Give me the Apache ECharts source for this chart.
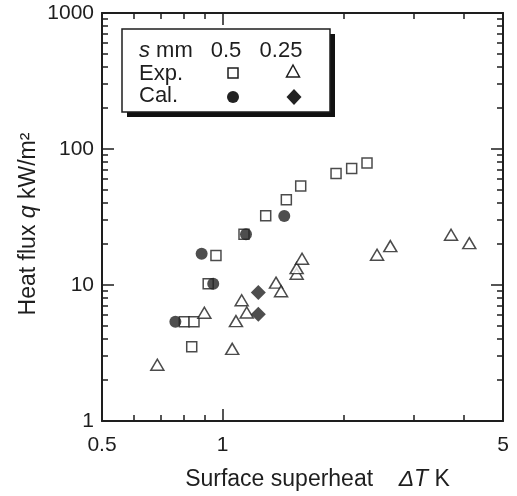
<!DOCTYPE html>
<html><head><meta charset="utf-8">
<script src="https://cdn.jsdelivr.net/npm/echarts@6/dist/echarts.min.js"></script>
<style>html,body{margin:0;padding:0;background:#fff}#c{width:517px;height:496px}</style>
</head><body><div id="c"></div>
<script>
// Exp., s = 0.5 mm (open squares)
const exp05_dT = [0.802, 0.837, 0.848, 0.920, 0.962, 1.13, 1.28, 1.441, 1.565, 1.917, 2.097, 2.290];
const exp05_q  = [5.37, 3.52, 5.37, 10.2, 16.5, 23.6, 32.3, 42.4, 53.4, 66.1, 71.9, 79.0];
// Exp., s = 0.25 mm (open triangles)
const exp025_dT = [0.687, 0.90, 1.056, 1.079, 1.115, 1.148, 1.358, 1.398, 1.529, 1.529, 1.577, 2.426, 2.618, 3.71, 4.12];
const exp025_q  = [2.59, 6.25, 3.39, 5.43, 7.73, 6.28, 10.4, 9.0, 12.1, 13.3, 15.6, 16.7, 19.3, 23.4, 20.3];
// Cal., s = 0.5 mm (filled circles)
const cal05_dT = [0.762, 0.886, 0.947, 1.143, 1.424];
const cal05_q  = [5.37, 17.0, 10.2, 23.6, 32.2];
// Cal., s = 0.25 mm (filled diamonds)
const cal025_dT = [1.227, 1.227];
const cal025_q  = [8.80, 6.10];

const xLabels = [0.5, 1, 5];
const xMajor = [1];
const xMinor = [0.6, 0.7, 0.8, 0.9, 2, 3, 4];
const yLabels = [1, 10, 100, 1000];
const yMajor = [10, 100];
const yMinor = [2,3,4,5,6,7,8,9,20,30,40,50,60,70,80,90,200,300,400,500,600,700,800,900];

const FONT = 'Liberation Sans, Arial, sans-serif';
const INK = '#1e1e1e';
const TFS = 23;
const zip = (a, b) => a.map((v, i) => [v, b[i]]);
const fmt = v => String(parseFloat(Number(v).toPrecision(3)));

function xAx(pos, ticks, len, main) {
  return {
    type: 'log', logBase: 10, min: 0.5, max: 5, position: pos, offset: 0,
    axisLine: { show: main, onZero: false, lineStyle: { color: INK, width: 2 } },
    axisTick: { show: true, inside: true, length: len, customValues: ticks, lineStyle: { color: INK, width: 1.5 } },
    axisLabel: main && pos === 'bottom'
      ? { show: true, customValues: xLabels, formatter: fmt, color: INK, fontSize: 21, fontFamily: FONT, margin: 14 }
      : { show: false },
    splitLine: { show: false }, minorTick: { show: false },
    name: main && pos === 'bottom' ? 'Surface superheat    {i|ΔT} K' : '',
    nameLocation: 'middle', nameGap: 47,
    nameTextStyle: { color: INK, fontSize: TFS, fontFamily: FONT, padding: [0, 0, 0, 30],
      rich: { i: { fontStyle: 'italic', fontSize: TFS, fontFamily: FONT, color: INK } } }
  };
}
function yAx(pos, ticks, len, main) {
  return {
    type: 'log', logBase: 10, min: 1, max: 1000, position: pos, offset: 0,
    axisLine: { show: main, onZero: false, lineStyle: { color: INK, width: 2 } },
    axisTick: { show: true, inside: true, length: len, customValues: ticks, lineStyle: { color: INK, width: 1.5 } },
    axisLabel: main && pos === 'left'
      ? { show: true, customValues: yLabels, formatter: fmt, color: INK, fontSize: 21, fontFamily: FONT, margin: 8 }
      : { show: false },
    splitLine: { show: false }, minorTick: { show: false },
    name: main && pos === 'left' ? 'Heat flux {i|q} kW/m²' : '',
    nameLocation: 'middle', nameGap: 62, nameMoveOverlap: false,
    nameTextStyle: { color: INK, fontSize: TFS, fontFamily: FONT, padding: [0, 14, 0, 0],
      rich: { i: { fontStyle: 'italic', fontSize: TFS, fontFamily: FONT, color: INK } } }
  };
}

const chart = echarts.init(document.getElementById('c'), null, { renderer: 'canvas' });
const openStyle = { color: '#fff', borderColor: INK, borderWidth: 1.5 };
chart.setOption({
  animation: false,
  backgroundColor: '#fff',
  textStyle: { fontFamily: FONT },
  grid: { left: 102, right: 14, top: 13, bottom: 73, containLabel: false },
  xAxis: [
    xAx('bottom', xMajor, 12, true), xAx('bottom', xMinor, 6, false),
    xAx('top', xMajor, 12, true), xAx('top', xMinor, 6, false)
  ],
  yAxis: [
    yAx('left', yMajor, 12, true), yAx('left', yMinor, 6, false),
    yAx('right', yMajor, 12, true), yAx('right', yMinor, 6, false)
  ],
  series: [
    { type: 'scatter', name: 'Exp. 0.5', data: zip(exp05_dT, exp05_q), symbol: 'rect', symbolSize: 10, itemStyle: openStyle, z: 2 },
    { type: 'scatter', name: 'Exp. 0.25', data: zip(exp025_dT, exp025_q), symbol: 'triangle', symbolSize: [13, 11], itemStyle: openStyle, z: 2 },
    { type: 'scatter', name: 'Cal. 0.5', data: zip(cal05_dT, cal05_q), symbol: 'circle', symbolSize: 12, itemStyle: { color: '#222' }, z: 3 },
    { type: 'scatter', name: 'Cal. 0.25', data: zip(cal025_dT, cal025_q), symbol: 'diamond', symbolSize: 15, itemStyle: { color: '#222' }, z: 3 }
  ],
  graphic: [
    { type: 'rect', shape: { x: 127, y: 34, width: 208, height: 83 }, style: { fill: '#111' }, z: 10 },
    { type: 'rect', shape: { x: 122, y: 29, width: 208, height: 83 }, style: { fill: '#fff', stroke: INK, lineWidth: 1.5 }, z: 11 },
    { type: 'text', x: 139, y: 51, z: 12, style: { text: '{i|s} mm', rich: { i: { fontStyle: 'italic', fontSize: 22, fontFamily: FONT, fill: INK } }, fontSize: 22, fontFamily: FONT, fill: INK, verticalAlign: 'middle' } },
    { type: 'text', x: 226, y: 51, z: 12, style: { text: '0.5', fontSize: 22, fontFamily: FONT, fill: INK, align: 'center', verticalAlign: 'middle' } },
    { type: 'text', x: 281, y: 51, z: 12, style: { text: '0.25', fontSize: 22, fontFamily: FONT, fill: INK, align: 'center', verticalAlign: 'middle' } },
    { type: 'text', x: 139, y: 74, z: 12, style: { text: 'Exp.', fontSize: 22, fontFamily: FONT, fill: INK, verticalAlign: 'middle' } },
    { type: 'text', x: 139, y: 96, z: 12, style: { text: 'Cal.', fontSize: 22, fontFamily: FONT, fill: INK, verticalAlign: 'middle' } },
    { type: 'rect', shape: { x: 228, y: 68, width: 10, height: 10 }, style: { fill: '#fff', stroke: INK, lineWidth: 1.5 }, z: 12 },
    { type: 'polygon', shape: { points: [[293, 65], [299.5, 77], [286.5, 77]] }, style: { fill: '#fff', stroke: INK, lineWidth: 1.5 }, z: 12 },
    { type: 'circle', shape: { cx: 233, cy: 97, r: 6 }, style: { fill: '#222' }, z: 12 },
    { type: 'polygon', shape: { points: [[294, 89], [301.5, 97], [294, 105], [286.5, 97]] }, style: { fill: '#222' }, z: 12 }
  ]
});
</script>
</body></html>
